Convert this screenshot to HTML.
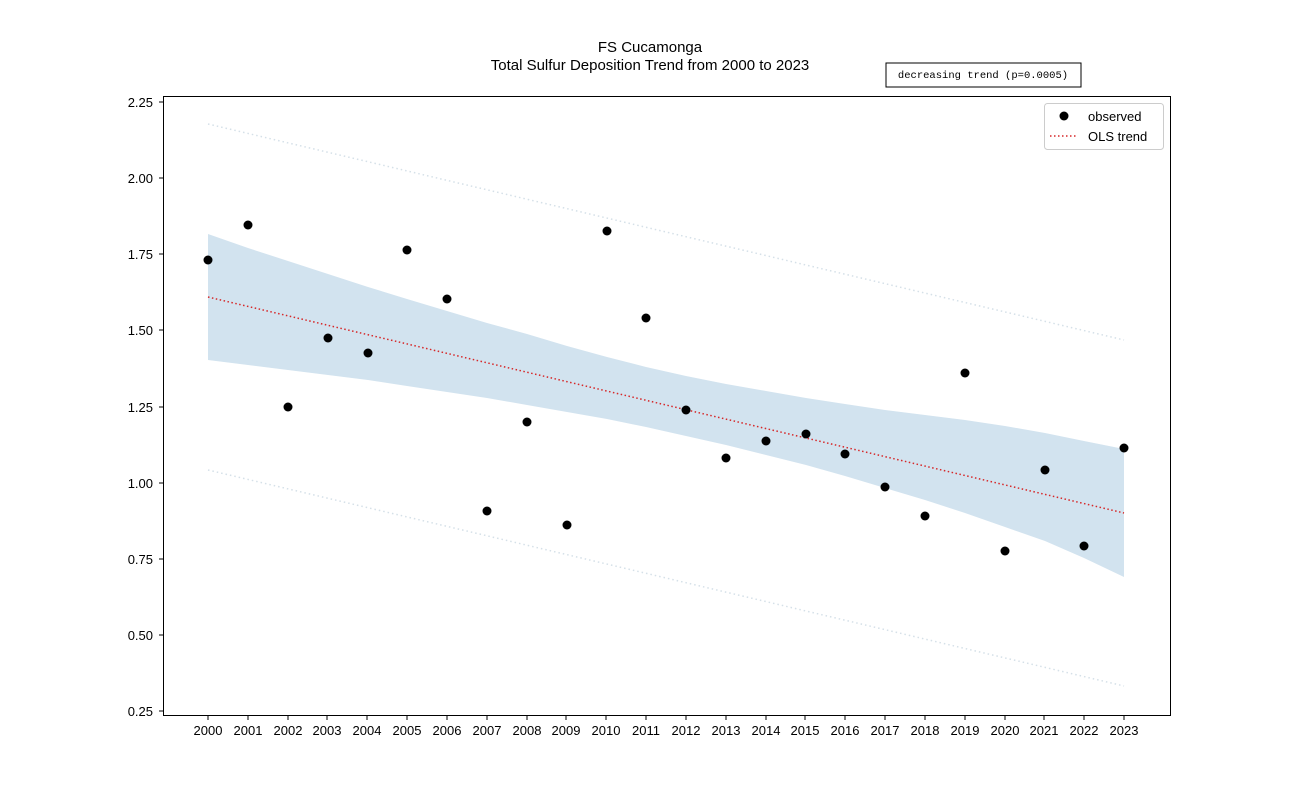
<!DOCTYPE html>
<html><head><meta charset="utf-8"><style>body{margin:0;background:#fff}svg{display:block}</style></head><body>
<svg width="1300" height="803" viewBox="0 0 1300 803" xmlns="http://www.w3.org/2000/svg" font-family="Liberation Sans, DejaVu Sans, sans-serif">
<rect width="1300" height="803" fill="#fff"/>
<text x="650" y="52" font-size="15" text-anchor="middle">FS Cucamonga</text>
<text x="650" y="70" font-size="15" text-anchor="middle">Total Sulfur Deposition Trend from 2000 to 2023</text>
<rect x="886" y="63" width="195" height="24" fill="#fff" stroke="#000" stroke-width="1"/>
<text x="983" y="78" font-size="10.5" text-anchor="middle" font-family="Liberation Mono, monospace">decreasing trend (p=0.0005)</text>
<path d="M208,234 L248,248 L288,261 L328,274 L368,287 L407,299 L447,311 L487,323 L527,334 L567,346 L607,357 L646,367 L686,376 L726,384 L766,391 L806,398 L845,404 L885,410 L925,415 L965,420 L1005,426 L1045,433 L1084,441 L1124,449 L1124,577 L1084,558 L1045,541 L1005,527 L965,513 L925,500 L885,488 L845,476 L806,465 L766,455 L726,445 L686,436 L646,427 L607,419 L567,412 L527,405 L487,398 L447,392 L407,386 L368,380 L328,375 L288,370 L248,365 L208,360 Z" fill="#d2e3ef"/>
<line x1="208" y1="124" x2="1124" y2="340" stroke="#d5e0e8" stroke-width="1.5" stroke-dasharray="1.5,3"/>
<line x1="208" y1="470" x2="1124" y2="686" stroke="#d5e0e8" stroke-width="1.5" stroke-dasharray="1.5,3"/>
<line x1="208" y1="297" x2="1124" y2="513" stroke="#d62728" stroke-width="1.5" stroke-dasharray="1.5,2.5"/>
<g fill="#000">
<circle cx="208" cy="260" r="4.5"/><circle cx="248" cy="225" r="4.5"/><circle cx="288" cy="407" r="4.5"/><circle cx="328" cy="338" r="4.5"/><circle cx="368" cy="353" r="4.5"/><circle cx="407" cy="250" r="4.5"/><circle cx="447" cy="299" r="4.5"/><circle cx="487" cy="511" r="4.5"/><circle cx="527" cy="422" r="4.5"/><circle cx="567" cy="525" r="4.5"/><circle cx="607" cy="231" r="4.5"/><circle cx="646" cy="318" r="4.5"/><circle cx="686" cy="410" r="4.5"/><circle cx="726" cy="458" r="4.5"/><circle cx="766" cy="441" r="4.5"/><circle cx="806" cy="434" r="4.5"/><circle cx="845" cy="454" r="4.5"/><circle cx="885" cy="487" r="4.5"/><circle cx="925" cy="516" r="4.5"/><circle cx="965" cy="373" r="4.5"/><circle cx="1005" cy="551" r="4.5"/><circle cx="1045" cy="470" r="4.5"/><circle cx="1084" cy="546" r="4.5"/><circle cx="1124" cy="448" r="4.5"/>
</g>
<rect x="163.5" y="96.5" width="1007" height="619" fill="none" stroke="#000" stroke-width="1"/>
<g font-size="13" text-anchor="end">
<text x="153" y="107">2.25</text><text x="153" y="183">2.00</text><text x="153" y="259">1.75</text><text x="153" y="335">1.50</text><text x="153" y="412">1.25</text><text x="153" y="488">1.00</text><text x="153" y="564">0.75</text><text x="153" y="640">0.50</text><text x="153" y="716">0.25</text>
</g>
<g stroke="#000"><line x1="159" y1="102" x2="163" y2="102"/><line x1="159" y1="178" x2="163" y2="178"/><line x1="159" y1="254" x2="163" y2="254"/><line x1="159" y1="330" x2="163" y2="330"/><line x1="159" y1="407" x2="163" y2="407"/><line x1="159" y1="483" x2="163" y2="483"/><line x1="159" y1="559" x2="163" y2="559"/><line x1="159" y1="635" x2="163" y2="635"/><line x1="159" y1="711" x2="163" y2="711"/></g>
<g font-size="13" text-anchor="middle">
<text x="208" y="735">2000</text><text x="248" y="735">2001</text><text x="288" y="735">2002</text><text x="327" y="735">2003</text><text x="367" y="735">2004</text><text x="407" y="735">2005</text><text x="447" y="735">2006</text><text x="487" y="735">2007</text><text x="527" y="735">2008</text><text x="566" y="735">2009</text><text x="606" y="735">2010</text><text x="646" y="735">2011</text><text x="686" y="735">2012</text><text x="726" y="735">2013</text><text x="766" y="735">2014</text><text x="805" y="735">2015</text><text x="845" y="735">2016</text><text x="885" y="735">2017</text><text x="925" y="735">2018</text><text x="965" y="735">2019</text><text x="1005" y="735">2020</text><text x="1044" y="735">2021</text><text x="1084" y="735">2022</text><text x="1124" y="735">2023</text>
</g>
<g stroke="#000">
<line x1="208" y1="715" x2="208" y2="720"/><line x1="248" y1="715" x2="248" y2="720"/><line x1="288" y1="715" x2="288" y2="720"/><line x1="327" y1="715" x2="327" y2="720"/><line x1="367" y1="715" x2="367" y2="720"/><line x1="407" y1="715" x2="407" y2="720"/><line x1="447" y1="715" x2="447" y2="720"/><line x1="487" y1="715" x2="487" y2="720"/><line x1="527" y1="715" x2="527" y2="720"/><line x1="566" y1="715" x2="566" y2="720"/><line x1="606" y1="715" x2="606" y2="720"/><line x1="646" y1="715" x2="646" y2="720"/><line x1="686" y1="715" x2="686" y2="720"/><line x1="726" y1="715" x2="726" y2="720"/><line x1="766" y1="715" x2="766" y2="720"/><line x1="805" y1="715" x2="805" y2="720"/><line x1="845" y1="715" x2="845" y2="720"/><line x1="885" y1="715" x2="885" y2="720"/><line x1="925" y1="715" x2="925" y2="720"/><line x1="965" y1="715" x2="965" y2="720"/><line x1="1005" y1="715" x2="1005" y2="720"/><line x1="1044" y1="715" x2="1044" y2="720"/><line x1="1084" y1="715" x2="1084" y2="720"/><line x1="1124" y1="715" x2="1124" y2="720"/>
</g>
<rect x="1044.5" y="103.5" width="119" height="46" rx="3" fill="#fff" stroke="#ccc"/>
<circle cx="1064" cy="116" r="4.5" fill="#000"/>
<text x="1088" y="121" font-size="13">observed</text>
<line x1="1050" y1="136" x2="1078" y2="136" stroke="#d62728" stroke-width="1.5" stroke-dasharray="1.5,2.5"/>
<text x="1088" y="141" font-size="13">OLS trend</text>
</svg>
</body></html>
